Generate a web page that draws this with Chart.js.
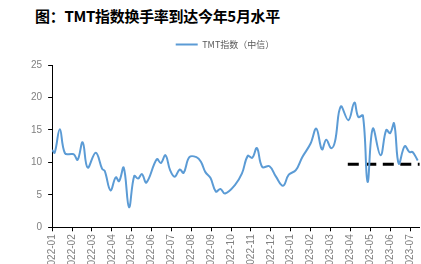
<!DOCTYPE html>
<html lang="zh">
<head>
  <meta charset="UTF-8" />
  <title>TMT指数换手率</title>
  <script src="https://cdn.jsdelivr.net/npm/chart.js"></script>
  <style>
    html, body { margin: 0; padding: 0; background: #fff; overflow: hidden; }
    #wrap { position: relative; width: 421px; height: 264px; overflow: hidden; }
    #title {
      position: absolute; left: 35px; top: 5px;
      font: bold 15px "Noto Sans CJK SC", sans-serif; color: #000;
      letter-spacing: -0.3px;
    }
    canvas { position: absolute; left: 0; top: 0; }
  </style>
</head>
<body>
<div id="wrap">
  <div id="title">图：TMT指数换手率到达今年5月水平</div>
  <canvas id="turnoverChart" width="425" height="274"></canvas>
</div>
<script>
  // 月份刻度
  const monthLabels = ['2022-01','2022-02','2022-03','2022-04','2022-05','2022-06','2022-07','2022-08','2022-09','2022-10',
    '2022-11','2022-12','2023-01','2023-02','2023-03','2023-04','2023-05','2023-06','2023-07'];

  // TMT指数（中信）换手率，按日期读数
  const dates = ['2022-01-01','2022-01-05','2022-01-13','2022-01-21','2022-02-01','2022-02-04','2022-02-09','2022-02-16','2022-02-23',
    '2022-03-07','2022-03-17','2022-03-21','2022-03-30','2022-04-07','2022-04-12','2022-04-19','2022-04-27',
    '2022-05-05','2022-05-11','2022-05-17','2022-05-24','2022-06-09','2022-06-15','2022-06-22','2022-06-29',
    '2022-07-06','2022-07-14','2022-07-20','2022-07-29','2022-08-09','2022-08-16','2022-08-23','2022-08-31',
    '2022-09-08','2022-09-15','2022-09-22','2022-10-07','2022-10-18','2022-10-27','2022-11-03','2022-11-10',
    '2022-11-18','2022-11-29','2022-12-09','2022-12-20','2022-12-29','2023-01-09','2023-01-19','2023-02-01',
    '2023-02-09','2023-02-17','2023-02-23','2023-03-02','2023-03-08','2023-03-17','2023-03-29','2023-04-07',
    '2023-04-13','2023-04-20','2023-04-27','2023-05-05','2023-05-17','2023-05-26','2023-06-01','2023-06-07',
    '2023-06-14','2023-06-23','2023-06-30','2023-07-05','2023-07-13'];
  const turnover = [11.9, 11.5, 15.1, 11.4, 11.3, 11.2, 10.4, 13.1, 9.2,
    11.5, 9.0, 8.7, 5.7, 7.7, 7.1, 9.2, 3.1,
    7.9, 7.5, 8.2, 6.9, 10.5, 9.9, 11.1, 8.8,
    7.8, 8.9, 8.4, 10.8, 10.8, 10.1, 8.5, 7.6,
    5.5, 5.9, 5.2, 6.5, 8.3, 11.0, 10.7, 12.2,
    9.3, 9.4, 7.8, 6.4, 8.1, 8.8, 10.8, 12.9,
    15.2, 12.0, 13.5, 12.2, 13.2, 18.6, 16.5, 19.2,
    17.0, 17.2, 7.0, 15.2, 11.1, 15.0, 14.5, 16.0,
    9.8, 12.5, 11.6, 11.6, 10.3];

  // 5月水平参考线
  const mayLevel = 9.7;
  const levelDates = ['2023-03-28', '2023-07-16'];

  // 日期 -> 以2022-01为0的月序号
  function toMonth(s) {
    const [y, m, d] = s.split('-').map(Number);
    const days = new Date(y, m, 0).getDate();
    return (y - 2022) * 12 + (m - 1) + (d - 1) / days;
  }

  const blue = '#5B9BD5';
  const gray = '#808080';

  // 图例下方留白
  const legendGap = {
    id: 'legendGap',
    beforeInit(chart) {
      const fit = chart.legend.fit;
      chart.legend.fit = function () {
        fit.bind(chart.legend)();
        this.height += 6;
      };
    }
  };

  new Chart(document.getElementById('turnoverChart'), {
    type: 'line',
    data: {
      datasets: [{
        label: 'TMT指数（中信）',
        data: dates.map((d, i) => ({ x: toMonth(d), y: turnover[i] })),
        borderColor: blue,
        backgroundColor: blue,
        borderWidth: 2,
        pointRadius: 0,
        tension: 0.4,
        fill: false
      }, {
        label: '5月水平',
        data: levelDates.map(d => ({ x: toMonth(d), y: mayLevel })),
        borderColor: '#000',
        borderWidth: 3,
        borderDash: [11, 6.5],
        pointRadius: 0,
        fill: false
      }]
    },
    plugins: [legendGap],
    options: {
      responsive: false,
      animation: false,
      layout: { padding: { left: 25, right: 0, top: 32, bottom: 0 } },
      plugins: {
        tooltip: { enabled: false },
        legend: {
          position: 'top',
          labels: {
            boxWidth: 22,
            boxHeight: 2,
            padding: 8,
            color: '#595959',
            font: { family: '"Noto Sans CJK SC", sans-serif', size: 9 },
            generateLabels: () => [{
              text: 'TMT指数（中信）', fillStyle: blue, strokeStyle: blue,
              lineWidth: 0, datasetIndex: 0, fontColor: '#595959'
            }]
          }
        }
      },
      scales: {
        x: {
          type: 'linear',
          min: 0,
          max: 18.5,
          ticks: {
            stepSize: 1,
            includeBounds: false,
            autoSkip: false,
            minRotation: 90,
            maxRotation: 90,
            padding: 3,
            color: gray,
            font: { family: '"Liberation Sans", sans-serif', size: 10 },
            callback: v => monthLabels[v] || ''
          },
          grid: { drawOnChartArea: false, tickLength: 4, tickColor: '#000' },
          border: { color: '#000', width: 1 }
        },
        y: {
          min: 0,
          max: 25,
          ticks: {
            stepSize: 5,
            padding: 6,
            color: gray,
            font: { family: '"Liberation Sans", sans-serif', size: 10 }
          },
          grid: { drawOnChartArea: false, tickLength: 4, tickColor: '#000' },
          border: { color: '#000', width: 1 }
        }
      }
    }
  });
</script>
</body>
</html>
